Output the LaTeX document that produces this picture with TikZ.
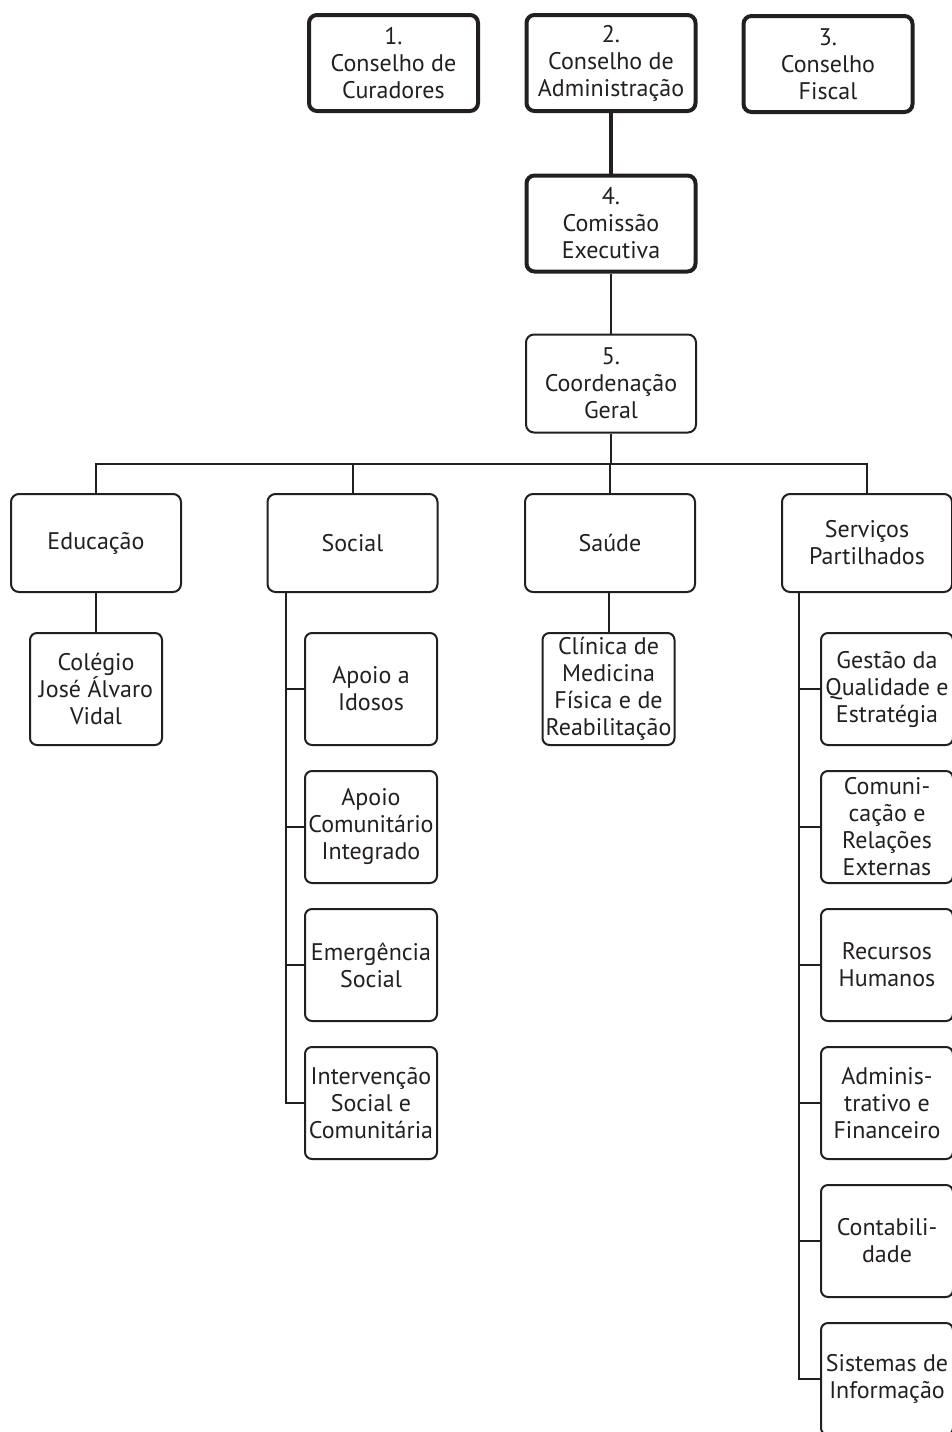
\documentclass[tikz,border=0pt]{standalone}
\usepackage{fontspec}
\setmainfont{PT Sans}
\usetikzlibrary{positioning}
\definecolor{orgink}{RGB}{35,31,32}

\begin{document}
\begin{tikzpicture}[
  x=1pt, y=-1pt,
  node distance = 24pt,
  board/.style = {rectangle, rounded corners=8pt, draw=orgink, line width=4pt,
                  minimum width=169pt, minimum height=96pt, inner sep=0pt,
                  text=orgink, font=\fontsize{24}{27}\selectfont, align=center},
  area/.style  = {board, line width=2pt, minimum width=170pt, minimum height=98pt},
  unit/.style  = {board, line width=2pt, rounded corners=7pt,
                  minimum width=132pt, minimum height=112pt},
  wire/.style     = {draw=orgink, line width=2pt},
  boldwire/.style = {draw=orgink, line width=4pt},
]
\useasboundingbox (0,0) rectangle (952,1432);

% ── Governing bodies ──────────────────────────────────────────────────────────
\node[board] (curadores) at (393.5,63) {1.\\Conselho de\\Curadores};
\node[board] (admin)     at (611,63)   {2.\\Conselho de\\Administração};
\node[board] (fiscal)    at (828,64)   {3.\\Conselho\\Fiscal};
\node[board] (executiva) at (611,223.5) {4.\\Comissão\\Executiva};
\node[area]  (geral)     at (611,383.5) {5.\\Coordenação\\Geral};

% ── Areas ─────────────────────────────────────────────────────────────────────
\node[area] (educacao) at (96,543)    {Educação};
\node[area] (social)   at (352.5,543) {Social};
\node[area] (saude)    at (610,543)   {Saúde};
\node[area] (servicos) at (867,543)   {Serviços\\Partilhados};

% ── Units: Educação, Saúde ────────────────────────────────────────────────────
\node[unit] (colegio) at (96,689)    {Colégio\\José Álvaro\\Vidal};
\node[unit] (clinica) at (608.5,689) {Clínica de\\Medicina\\Física e de\\Reabilitação};

% ── Units: Social ─────────────────────────────────────────────────────────────
\node[unit] (idosos) at (371,689) {Apoio a\\Idosos};
\node[unit, below=of idosos]      (comunitario) {Apoio\\Comunitário\\Integrado};
\node[unit, below=of comunitario] (emergencia)  {Emergência\\Social};
\node[unit, below=of emergencia]  (intervencao) {Intervenção\\Social e\\Comunitária};

% ── Units: Serviços Partilhados ───────────────────────────────────────────────
\node[unit] (qualidade) at (887,689) {Gestão da\\Qualidade e\\Estratégia};
\node[unit, below=of qualidade]    (comunicacao)   {Comuni-\\cação e\\Relações\\Externas};
\node[unit, below=of comunicacao]  (humanos)       {Recursos\\Humanos};
\node[unit, below=of humanos]      (financeiro)    {Adminis-\\trativo e\\Financeiro};
\node[unit, below=of financeiro]   (contabilidade) {Contabili-\\dade};
\node[unit, below=of contabilidade] (sistemas)     {Sistemas de\\Informação};

% ── Wires: top ────────────────────────────────────────────────────────────────
\draw[boldwire] (admin) -- (executiva);
\draw[wire] (executiva) -- (geral);

\coordinate (bus) at (611,464);
\draw[wire] (geral) -- (bus);
\draw[wire] (educacao.north) |- (bus) -| (servicos.north);
\draw[wire] (social.north) -- (social.north |- bus);
\draw[wire] (saude.north)  -- (saude.north |- bus);

% ── Wires: units ──────────────────────────────────────────────────────────────
\draw[wire] (educacao) -- (colegio);
\draw[wire] (saude.south -| clinica.north) -- (clinica.north);

\coordinate (socspine) at (286,0);
\draw[wire] (social.south -| socspine) |- (intervencao.west);
\foreach \n in {idosos, comunitario, emergencia}
  \draw[wire] (\n.west) -- (\n.west -| socspine);

\coordinate (srvspine) at (799,0);
\draw[wire] (servicos.south -| srvspine) |- (sistemas.west);
\foreach \n in {qualidade, comunicacao, humanos, financeiro, contabilidade}
  \draw[wire] (\n.west) -- (\n.west -| srvspine);

\end{tikzpicture}
\end{document}
